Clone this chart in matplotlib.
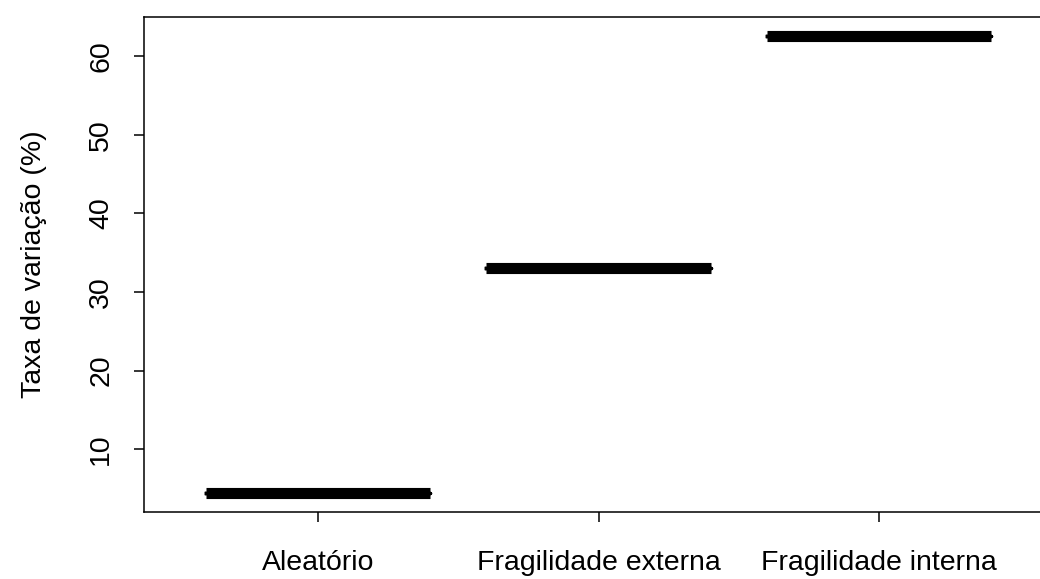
import matplotlib
matplotlib.use('Agg')
import matplotlib.pyplot as plt

# dados (caixas degeneradas, todos os valores iguais)
categorias = ['Aleatório', 'Fragilidade externa', 'Fragilidade interna']
taxas = [4.4, 33.1, 62.6]
yticks = [10, 20, 30, 40, 50, 60]

plt.rcParams['font.family'] = ['Liberation Sans', 'DejaVu Sans']

fig = plt.figure(figsize=(10.4, 5.79), dpi=100)
ax = fig.add_axes([0.1385, 0.1157, 0.874, 0.855])

pos = list(range(1, len(categorias) + 1))
ax.boxplot([[v] for v in taxas], positions=pos, widths=0.8, whis=0,
           showcaps=False, showfliers=False,
           boxprops=dict(color='black', linewidth=2.5),
           whiskerprops=dict(color='black', linewidth=2.5),
           medianprops=dict(color='black', linewidth=8, solid_capstyle='butt'))

ax.set_xlim(0.38, 3.62)
ax.set_ylim(2.03, 64.96)
ax.set_xticks(pos)
ax.set_xticklabels(categorias)
ax.set_yticks(yticks)
ax.set_yticklabels([str(t) for t in yticks], rotation=90, va='center')
ax.tick_params(axis='both', labelsize=20.5, length=7.5, width=1.1)
ax.tick_params(axis='x', pad=20)
ax.tick_params(axis='y', pad=14)
for s in ax.spines.values():
    s.set_linewidth(1.1)
ax.set_ylabel('Taxa de variação (%)', fontsize=20.5, labelpad=30)

plt.savefig('out.png', dpi=100)
